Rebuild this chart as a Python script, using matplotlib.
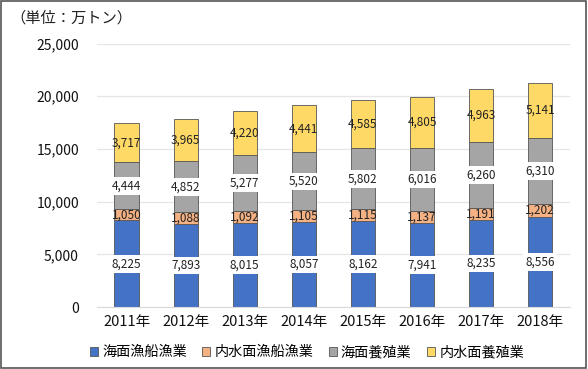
import matplotlib.pyplot as plt
import numpy as np

plt.rcParams['font.family'] = ['Noto Sans CJK JP', 'DejaVu Sans']

years = ['2011年', '2012年', '2013年', '2014年', '2015年', '2016年', '2017年', '2018年']
kaimen_gyosen = [8225, 7893, 8015, 8057, 8162, 7941, 8235, 8556]
naisui_gyosen = [1050, 1088, 1092, 1105, 1115, 1137, 1191, 1202]
kaimen_yoshoku = [4444, 4852, 5277, 5520, 5802, 6016, 6260, 6310]
naisui_yoshoku = [3717, 3965, 4220, 4441, 4585, 4805, 4963, 5141]

names = ['海面漁船漁業', '内水面漁船漁業', '海面養殖業', '内水面養殖業']
colors = ['#4472C4', '#F4B183', '#A5A5A5', '#FFD966']
boxed = [True, False, True, False]


def main():
    fig = plt.figure(figsize=(5.88, 3.69), dpi=100)
    ax = fig.add_axes([0.165, 0.168, 0.804, 0.714])

    x = np.arange(len(years))
    series = [kaimen_gyosen, naisui_gyosen, kaimen_yoshoku, naisui_yoshoku]
    bottom = np.zeros(len(years))
    for vals, name, c, box in zip(series, names, colors, boxed):
        vals = np.array(vals)
        ax.bar(x, vals, 0.41, bottom=bottom, color=c, edgecolor='#555555',
               linewidth=0.6, label=name, zorder=2)
        for xi, b, v in zip(x, bottom, vals):
            kw = {}
            if box:
                kw['bbox'] = dict(boxstyle='square,pad=0.2', fc='white', ec='none')
            ax.text(xi, b + v / 2, f'{v:,}', ha='center', va='center',
                    fontsize=8.5, color='#222222', zorder=3, **kw)
        bottom += vals

    ax.set_xlim(-0.5, 7.5)
    ax.set_ylim(0, 25000)
    ax.set_yticks(range(0, 25001, 5000))
    ax.set_yticklabels([f'{v:,}' for v in range(0, 25001, 5000)])
    ax.set_xticks(x)
    ax.set_xticklabels(years)
    ax.tick_params(axis='both', length=0, labelsize=10, colors='#111111')
    ax.tick_params(axis='y', pad=13)
    ax.tick_params(axis='x', pad=6, labelsize=10.5)
    ax.grid(axis='y', color='#e6e6e6', linewidth=0.9, zorder=0)
    for s in ['top', 'right', 'left']:
        ax.spines[s].set_visible(False)
    ax.spines['bottom'].set_color('#d9d9d9')

    fig.text(0.018, 0.952, '（単位：万トン）', fontsize=11, color='#222222', va='center')

    fig.legend(loc='center', bbox_to_anchor=(0.522, 0.045), ncol=4, frameon=False,
               fontsize=10.2, handlelength=0.55, handleheight=0.55, handletextpad=0.3,
               columnspacing=1.1)

    fig.patches.append(plt.Rectangle((0.002, 0.003), 0.995, 0.993, transform=fig.transFigure,
                                     fill=False, ec='#555555', lw=1.2))

    fig.savefig('out.png', dpi=100)


if __name__ == '__main__':
    main()
